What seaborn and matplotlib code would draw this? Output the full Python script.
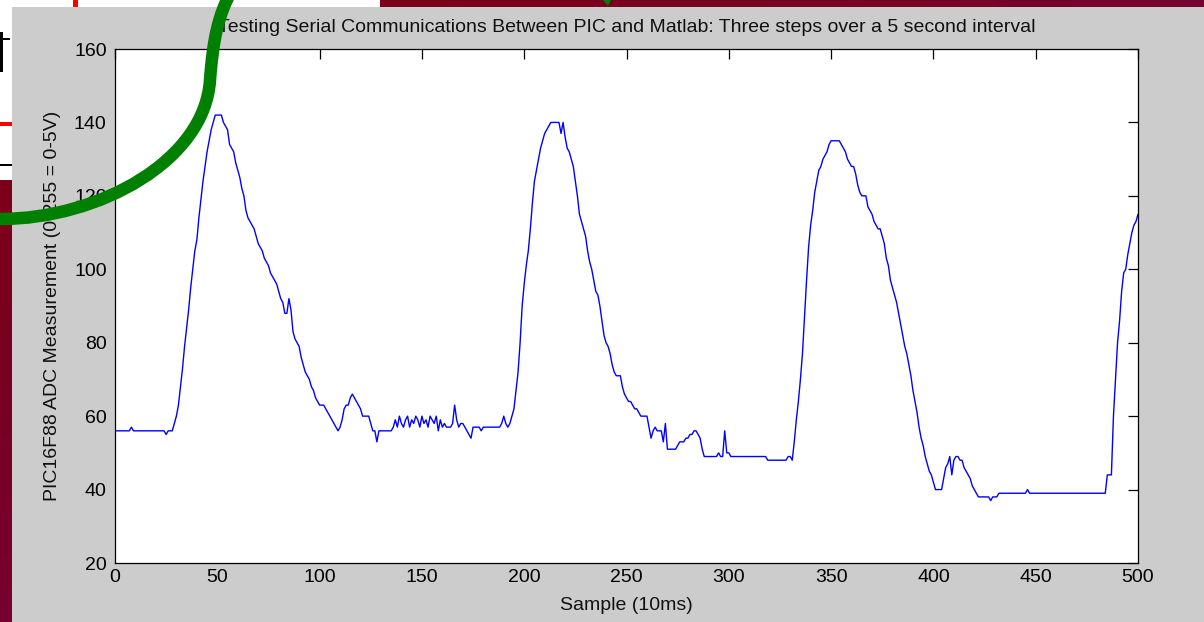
"""
Serial link test PIC16F88 -> Matlab, redrawn with seaborn
"""

import numpy as np
import matplotlib
matplotlib.use('Agg')
import matplotlib.pyplot as plt
import seaborn as sns
from matplotlib.patches import Rectangle, PathPatch, Polygon
from matplotlib.path import Path

sns.set_style('white')
plt.rcParams['font.family'] = ['Liberation Sans', 'DejaVu Sans']

# ============================================================================
# DATA (ADC counts, one per 10 ms sample)
# ============================================================================
adc_counts = [
    56, 56, 56, 56, 56, 56, 56, 56, 57, 56,            # 0
    56, 56, 56, 56, 56, 56, 56, 56, 56, 56,            # 10
    56, 56, 56, 56, 56, 55, 56, 56, 56, 58,            # 20
    60, 63, 68, 73, 79, 84, 89, 95, 100, 105,          # 30
    108, 114, 119, 124, 128, 132, 135, 138, 140, 142,  # 40
    142, 142, 142, 140, 139, 138, 134, 133, 132, 129,  # 50
    127, 125, 122, 120, 116, 114, 113, 112, 111, 109,  # 60
    107, 106, 105, 103, 102, 101, 99, 98, 97, 96,      # 70
    94, 92, 91, 88, 88, 92, 89, 83, 81, 80,            # 80
    79, 76, 74, 72, 71, 70, 68, 67, 65, 64,            # 90
    63, 63, 63, 62, 61, 60, 59, 58, 57, 56,            # 100
    57, 59, 62, 63, 63, 65, 66, 65, 64, 63,            # 110
    62, 60, 60, 60, 60, 58, 56, 56, 53, 56,            # 120
    56, 56, 56, 56, 56, 56, 57, 59, 57, 60,            # 130
    58, 57, 59, 60, 57, 59, 58, 60, 59, 57,            # 140
    60, 58, 59, 57, 60, 59, 58, 60, 56, 59,            # 150
    57, 58, 57, 57, 57, 58, 63, 59, 57, 58,            # 160
    58, 57, 56, 55, 54, 57, 57, 57, 57, 56,            # 170
    57, 57, 57, 57, 57, 57, 57, 57, 57, 58,            # 180
    60, 58, 57, 58, 60, 62, 67, 72, 80, 90,            # 190
    96, 101, 105, 111, 118, 124, 127, 130, 133, 135,   # 200
    137, 138, 139, 140, 140, 140, 140, 140, 137, 140,  # 210
    136, 133, 132, 130, 128, 124, 120, 115, 113, 111,  # 220
    109, 105, 102, 100, 97, 94, 93, 90, 86, 82,        # 230
    80, 79, 77, 74, 72, 71, 71, 71, 68, 66,            # 240
    65, 64, 64, 63, 62, 62, 61, 60, 60, 60,            # 250
    60, 57, 54, 56, 57, 56, 56, 56, 53, 58,            # 260
    51, 51, 51, 51, 51, 52, 53, 53, 53, 54,            # 270
    54, 55, 55, 56, 56, 55, 54, 51, 49, 49,            # 280
    49, 49, 49, 49, 49, 50, 49, 49, 56, 50,            # 290
    50, 49, 49, 49, 49, 49, 49, 49, 49, 49,            # 300
    49, 49, 49, 49, 49, 49, 49, 49, 49, 48,            # 310
    48, 48, 48, 48, 48, 48, 48, 48, 48, 49,            # 320
    49, 48, 53, 59, 64, 70, 77, 87, 97, 106,           # 330
    112, 116, 121, 124, 127, 128, 130, 131, 132, 134,  # 340
    135, 135, 135, 135, 135, 134, 133, 132, 130, 129,  # 350
    128, 128, 126, 123, 121, 120, 120, 120, 117, 116,  # 360
    115, 113, 112, 111, 111, 109, 107, 103, 101, 97,   # 370
    95, 93, 91, 88, 85, 82, 79, 77, 74, 71,            # 380
    67, 64, 61, 57, 54, 52, 49, 47, 45, 44,            # 390
    42, 40, 40, 40, 40, 43, 46, 47, 49, 44,            # 400
    48, 49, 49, 48, 48, 46, 45, 44, 43, 41,            # 410
    40, 39, 38, 38, 38, 38, 38, 38, 37, 38,            # 420
    38, 38, 39, 39, 39, 39, 39, 39, 39, 39,            # 430
    39, 39, 39, 39, 39, 39, 40, 39, 39, 39,            # 440
    39, 39, 39, 39, 39, 39, 39, 39, 39, 39,            # 450
    39, 39, 39, 39, 39, 39, 39, 39, 39, 39,            # 460
    39, 39, 39, 39, 39, 39, 39, 39, 39, 39,            # 470
    39, 39, 39, 39, 39, 44, 44, 44, 60, 70,            # 480
    80, 86, 94, 99, 100, 104, 107, 110, 112, 113,      # 490
    115,                                               # 500
]
samples = np.arange(len(adc_counts))

x_ticks = [0, 50, 100, 150, 200, 250, 300, 350, 400, 450, 500]
y_ticks = [20, 40, 60, 80, 100, 120, 140, 160]

titulo = 'Testing Serial Communications Between PIC and Matlab: Three steps over a 5 second interval'
rotulo_x = 'Sample (10ms)'
rotulo_y = 'PIC16F88 ADC Measurement (0-255 = 0-5V)'

# ============================================================================
# FIGURE
# ============================================================================
W, H = 1204, 622
fig = plt.figure(figsize=(W / 100, H / 100), dpi=100)

# screen background behind the Matlab window (pixel coordinates)
bg = fig.add_axes([0, 0, 1, 1], zorder=-5)
bg.set_xlim(0, W)
bg.set_ylim(H, 0)
bg.axis('off')
gx, gy = np.meshgrid(np.linspace(0, 1, 64), np.linspace(0, 1, 64))
t = (gx + gy) / 2
c0 = np.array([0.50, 0.0, 0.06])
c1 = np.array([0.43, 0.0, 0.31])
grad = c0[None, None, :] * (1 - t[..., None]) + c1[None, None, :] * t[..., None]
bg.imshow(grad, extent=(0, W, H, 0), aspect='auto')
bg.add_patch(Rectangle((0, 0), 380, 7, color='white', lw=0))
bg.add_patch(Rectangle((0, 0), 12, 180, color='white', lw=0))
bg.add_patch(Rectangle((73, 0), 5, 7, color='red', lw=0))
bg.add_patch(Rectangle((0, 122), 12, 4, color='red', lw=0))
bg.add_patch(Rectangle((0, 164), 12, 1.5, color='black', lw=0))
bg.add_patch(Rectangle((0, 32), 2.5, 40, color='black', lw=0))
bg.add_patch(Rectangle((0, 38), 10, 1.5, color='black', lw=0))
bg.add_patch(Rectangle((12, 7), W, H, color='#cccccc', lw=0))

# main axes (Matlab look)
ax = fig.add_axes([115 / W, 1 - 563 / H, (1138 - 115) / W, (563 - 49) / H])
sns.lineplot(x=samples, y=adc_counts, ax=ax, color='#0000ff', lw=1.0)

ax.set_xlim(0, 500)
ax.set_ylim(20, 160)
ax.set_xticks(x_ticks)
ax.set_yticks(y_ticks)
ax.set_facecolor('white')
for s in ax.spines.values():
    s.set_visible(True)
    s.set_color('black')
    s.set_linewidth(0.9)
ax.tick_params(direction='in', length=7, width=0.9, colors='black',
               top=True, right=True, labelsize=14, pad=6)
ax.tick_params(axis='x', pad=4)
ax.set_title(titulo, fontsize=14, pad=12, color='#111111')
ax.set_xlabel(rotulo_x, fontsize=14, labelpad=8, color='#111111')
ax.set_ylabel(rotulo_y, fontsize=14, labelpad=9, color='#111111')
ax.grid(False)

# green annotation stroke drawn over everything
ov = fig.add_axes([0, 0, 1, 1], zorder=10)
ov.set_xlim(0, W)
ov.set_ylim(H, 0)
ov.axis('off')
ov.patch.set_alpha(0)
verts = [(0, 219), (100, 219), (205, 160), (210, 80),
         (213, 40), (218, 15), (232, -10)]
codes = [Path.MOVETO, Path.CURVE4, Path.CURVE4, Path.CURVE4,
         Path.CURVE4, Path.CURVE4, Path.CURVE4]
ov.add_patch(PathPatch(Path(verts, codes), facecolor='none',
                       edgecolor='#008000', lw=9, capstyle='butt'))
ov.add_patch(Polygon([(603, 0), (611, 0), (608, 6)], closed=True,
                     color='#008000', lw=0))

fig.savefig('out.png', dpi=100, facecolor=fig.get_facecolor())
